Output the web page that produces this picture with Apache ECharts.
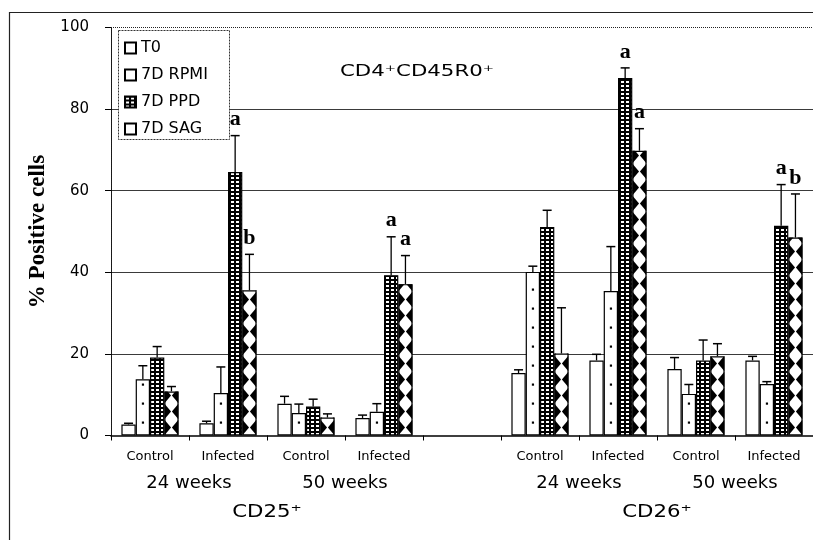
<!DOCTYPE html>
<html><head><meta charset="utf-8">
<script src="https://cdn.jsdelivr.net/npm/echarts@6/dist/echarts.min.js"></script>
<style>html,body{margin:0;padding:0;background:#fff}#c{width:813px;height:540px}</style>
</head><body><div id="c"></div>
<script>
// ---- data ----
const categories = ['Control', 'Infected', 'Control', 'Infected', '', 'Control', 'Infected', 'Control', 'Infected'];
const seriesNames = ['T0', '7D RPMI', '7D PPD', '7D SAG'];
const t0      = [2.7, 3.0, 7.8, 4.3, null, 15.3, 18.4, 16.3, 18.4];
const t0Err   = [0.3, 0.5, 1.8, 0.7, null, 0.8, 1.5, 2.8, 1.0];
const rpmi    = [13.8, 10.4, 5.5, 5.8, null, 40.1, 35.4, 10.2, 12.6];
const rpmiErr = [3.3, 6.4, 2.2, 2.0, null, 1.4, 10.9, 2.3, 0.6];
const ppd     = [19.1, 64.6, 7.1, 39.3, null, 51.1, 87.6, 18.4, 51.4];
const ppdErr  = [2.7, 8.9, 1.8, 9.4, null, 4.1, 2.5, 5.0, 10.1];
const sag     = [10.8, 35.6, 4.4, 37.1, null, 20.1, 69.8, 19.4, 48.5];
const sagErr  = [1.2, 8.8, 0.9, 7.0, null, 11.2, 5.4, 3.1, 10.7];
const t0Sig   = ['', '', '', '', '', '', '', '', ''];
const rpmiSig = ['', '', '', '', '', '', '', '', ''];
const ppdSig  = ['', 'a', '', 'a', '', '', 'a', '', 'a'];
const sagSig  = ['', 'b', '', 'a', '', '', 'a', '', 'b'];
const yTicks  = [0, 20, 40, 60, 80, 100];
const weekLabels = ['24 weeks', '50 weeks', '', '24 weeks', '50 weeks'];
const markerLabels = ['CD25\u207A', 'CD26\u207A'];
const chartTitle = 'CD4\u207ACD45R0\u207A';
const yName = '% Positive cells';

// ---- styling ----
const BAR_W = 14.3;
function checkPattern() {
  const c = document.createElement('canvas'); c.width = 5; c.height = 4;
  const g = c.getContext('2d');
  g.fillStyle = '#000'; g.fillRect(0, 0, 5, 4);
  g.fillStyle = '#fff'; g.fillRect(1, 1, 3, 2);
  return c;
}
const fills = ['#fff', '#fff', { image: checkPattern(), repeat: 'repeat' }, '#fff'];
const values = [t0, rpmi, ppd, sag];
const errs = [t0Err, rpmiErr, ppdErr, sagErr];
const sigs = [t0Sig, rpmiSig, ppdSig, sagSig];

const overlay = [];
for (let k = 0; k < 4; k++) {
  for (let i = 0; i < categories.length; i++) {
    if (values[k][i] == null) continue;
    overlay.push({ value: [i, k, values[k][i], errs[k][i]], sig: sigs[k][i] });
  }
}

function renderOverlay(params, api) {
  const d = overlay[params.dataIndex];
  const i = d.value[0], k = d.value[1], v = d.value[2], e = d.value[3];
  const base = api.coord([i, 0]);
  const top = api.coord([i, v]);
  const eTop = api.coord([i, v + e]);
  const cx = base[0] + (k - 1.5) * BAR_W;
  const xL = cx - BAR_W / 2;
  const children = [];
  if (k === 1) {
    for (let y = base[1] - 13; y > top[1] + 3; y -= 19) {
      children.push({ type: 'rect', shape: { x: cx - 1, y: y - 1, width: 2.2, height: 2.2 }, style: { fill: '#000' } });
    }
  }
  if (k === 3) {
    const P = 16, tri = [];
    for (let y0 = base[1]; y0 > top[1] - P; y0 -= P) {
      tri.push({ type: 'polygon', shape: { points: [[xL, y0], [xL + BAR_W * 0.47, y0 - P / 2], [xL, y0 - P]] }, style: { fill: '#000' } });
      tri.push({ type: 'polygon', shape: { points: [[xL + BAR_W, y0], [xL + BAR_W * 0.53, y0 - P / 2], [xL + BAR_W, y0 - P]] }, style: { fill: '#000' } });
    }
    children.push({ type: 'group', children: tri,
      clipPath: { type: 'rect', shape: { x: xL, y: top[1], width: BAR_W, height: base[1] - top[1] } } });
  }
  // error bar
  children.push({ type: 'line', shape: { x1: cx, y1: top[1], x2: cx, y2: eTop[1] }, style: { stroke: '#000', lineWidth: 1.3 } });
  children.push({ type: 'line', shape: { x1: cx - 4.5, y1: eTop[1], x2: cx + 4.5, y2: eTop[1] }, style: { stroke: '#000', lineWidth: 1.5 } });
  if (d.sig) {
    children.push({ type: 'text', x: cx, y: eTop[1] - 5,
      style: { text: d.sig, font: 'bold 22px "Liberation Serif"', fill: '#000', align: 'center', verticalAlign: 'bottom', textAlign: 'center', textVerticalAlign: 'bottom' } });
  }
  return { type: 'group', children };
}

const chart = echarts.init(document.getElementById('c'), null, { renderer: 'canvas' });

const barSeries = seriesNames.map((name, k) => ({
  name, type: 'bar', data: values[k], barWidth: BAR_W, barGap: '0%',
  itemStyle: { color: fills[k], borderColor: '#000', borderWidth: 1.2 },
  emphasis: { disabled: true },
  markLine: k === 0 ? { silent: true, symbol: 'none', label: { show: false },
    lineStyle: { type: 'dotted', color: '#222', width: 1 }, data: [{ yAxis: yTicks[yTicks.length - 1] }] } : undefined,
  z: 2
}));

chart.setOption({
  animation: false,
  backgroundColor: '#fff',
  grid: { left: 111, right: -11, top: 27.5, bottom: 104.5, containLabel: false },
  legend: {
    data: seriesNames, orient: 'vertical', left: 124, top: 40, padding: 0,
    icon: 'rect', itemWidth: 11, itemHeight: 11, itemGap: 11,
    textStyle: { fontFamily: 'DejaVu Sans', fontSize: 16, color: '#000', lineHeight: 16 },
    selectedMode: false, z: 6
  },
  xAxis: {
    type: 'category', data: categories,
    axisLine: { lineStyle: { color: '#000', width: 1.5 } },
    axisTick: { show: true, interval: 0, length: 5, lineStyle: { color: '#000' } },
    axisLabel: { interval: 0, fontFamily: 'DejaVu Sans', fontSize: 13, color: '#000', margin: 15 },
    splitLine: { show: false }
  },
  yAxis: {
    type: 'value', min: yTicks[0], max: yTicks[yTicks.length - 1], interval: yTicks[1] - yTicks[0],
    axisLine: { show: true, lineStyle: { color: '#000', type: 'dotted', width: 1 } },
    axisTick: { show: true, length: 6, lineStyle: { color: '#000' } },
    axisLabel: { fontFamily: 'DejaVu Sans', fontSize: 15, color: '#000', margin: 22 },
    splitLine: { show: true, showMinLine: false, showMaxLine: false, lineStyle: { color: '#3a3a3a', width: 1 } },
    name: yName, nameLocation: 'middle', nameRotate: 90, nameGap: 57,
    nameTextStyle: { fontFamily: 'Liberation Serif', fontWeight: 'bold', fontSize: 23, color: '#000' }
  },
  series: barSeries.concat([{
    type: 'custom', data: overlay, renderItem: renderOverlay, z: 3, silent: true,
    encode: { x: 0, y: 2 }
  }])
});

// text labels placed from the axis scale
const px = i => chart.convertToPixel({ gridIndex: 0 }, [i, 0]);
const yBase = px(0)[1];
const texts = [];
const weekPairs = [[0, 1], [2, 3], null, [5, 6], [7, 8]];
weekLabels.forEach((t, j) => {
  if (!t) return;
  const p = weekPairs[j];
  const x = (px(p[0])[0] + px(p[1])[0]) / 2;
  texts.push({ type: 'text', x, y: yBase + 48, scaleX: 1.06,
    style: { text: t, font: '17px "DejaVu Sans"', fill: '#000', align: 'center', verticalAlign: 'middle' } });
});
const markerPairs = [[1, 2], [6, 7]];
markerLabels.forEach((t, j) => {
  const p = markerPairs[j];
  const x = (px(p[0])[0] + px(p[1])[0]) / 2;
  texts.push({ type: 'text', x, y: yBase + 77, scaleX: 1.25,
    style: { text: t, font: '17px "DejaVu Sans"', fill: '#000', align: 'center', verticalAlign: 'middle' } });
});
texts.push({ type: 'text', x: 417, y: 72, scaleX: 1.42,
  style: { text: chartTitle, font: '15px "DejaVu Sans"', fill: '#000', align: 'center', verticalAlign: 'middle' } });

chart.setOption({
  graphic: [
    { type: 'rect', z: 0, silent: true, shape: { x: 9.5, y: 12.5, width: 900, height: 600 },
      style: { fill: 'none', stroke: '#222', lineWidth: 1.2 } },
    { type: 'rect', z: 4, silent: true, shape: { x: 118.5, y: 30.5, width: 111, height: 109 },
      style: { fill: '#fff', stroke: '#333', lineWidth: 1, lineDash: [2, 1] } }
  ].concat(texts)
});
</script></body></html>
